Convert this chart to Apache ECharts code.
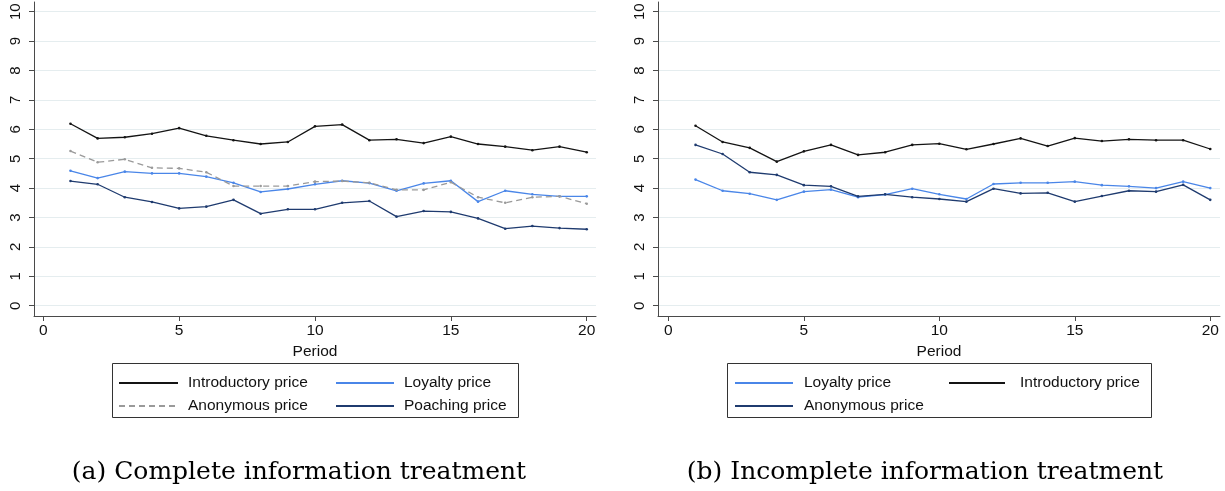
<!DOCTYPE html>
<html><head><meta charset="utf-8">
<script src="https://cdn.jsdelivr.net/npm/echarts@6/dist/echarts.min.js"></script>
<style>
html,body{margin:0;padding:0;background:#fff;width:1225px;height:491px;overflow:hidden}
#a{position:absolute;left:0;top:0;width:612px;height:491px}
#b{position:absolute;left:612px;top:0;width:613px;height:491px}
</style></head>
<body><div id="a"></div><div id="b"></div>
<script>
// ---- data ----
const periods = [1,2,3,4,5,6,7,8,9,10,11,12,13,14,15,16,17,18,19,20];
const xTicks = [0,5,10,15,20];
const yTicks = [0,1,2,3,4,5,6,7,8,9,10];

// (a) Complete information treatment
const aIntro = [6.19,5.69,5.73,5.85,6.04,5.78,5.63,5.50,5.57,6.10,6.16,5.63,5.66,5.53,5.75,5.50,5.41,5.29,5.41,5.22];
const aLoyal = [4.59,4.34,4.56,4.50,4.50,4.39,4.18,3.87,3.97,4.13,4.25,4.17,3.91,4.16,4.25,3.54,3.91,3.79,3.72,3.72];
const aAnon  = [5.26,4.88,4.98,4.69,4.67,4.54,4.07,4.07,4.07,4.22,4.24,4.18,3.94,3.94,4.20,3.69,3.50,3.69,3.72,3.47];
const aPoach = [4.24,4.13,3.69,3.53,3.31,3.37,3.60,3.13,3.28,3.28,3.50,3.56,3.03,3.22,3.19,2.97,2.62,2.71,2.64,2.60];

// (b) Incomplete information treatment
const bLoyal = [4.29,3.91,3.81,3.60,3.88,3.95,3.69,3.78,3.98,3.79,3.63,4.14,4.18,4.18,4.22,4.10,4.06,4.00,4.22,4.00];
const bIntro = [6.12,5.57,5.37,4.90,5.25,5.47,5.13,5.22,5.47,5.51,5.32,5.50,5.69,5.43,5.70,5.60,5.66,5.63,5.63,5.33];
const bAnon  = [5.47,5.16,4.54,4.45,4.10,4.06,3.72,3.79,3.69,3.63,3.54,3.98,3.82,3.84,3.54,3.73,3.91,3.88,4.11,3.60];

const captionA = '(a) Complete information treatment';
const captionB = '(b) Incomplete information treatment';

// ---- styles ----
const C_BLACK = '#141414', C_LIGHT = '#4a86e8', C_NAVY = '#1f3b6f', C_GRAY = '#9a9a9a';
const SANS = 'Liberation Sans, Arial, sans-serif';
const AXC = '#4a4a4a';

function pairs(vals){ return periods.map((p,i)=>[p, vals[i]]); }
function line(name, vals, color, dashed){
  return {
    type:'line', name, data: pairs(vals),
    symbol:'circle', symbolSize:2.6, showSymbol:true,
    itemStyle:{color},
    lineStyle:{color, width:1.3, type: dashed ? [6,4] : 'solid'},
    emphasis:{disabled:true}, animation:false
  };
}
function legendCol(names, left, itemWidth, textPad){
  return {
    data: names, orient:'vertical', left, top:375,
    itemWidth, itemHeight:14, itemGap:7, padding:0,
    selectedMode:false,
    itemStyle:{opacity:0},
    textStyle:{fontFamily:SANS, fontSize:15.5, color:'#111', padding:[0,0,0,textPad]}
  };
}
function build(cfg){
  return {
    animation:false,
    grid:{left:cfg.gridLeft, top:2, width:562, height:314, containLabel:false},
    xAxis:{
      type:'value', min:cfg.xmin, max:cfg.xmax,
      name:'Period', nameLocation:'middle', nameGap:24,
      nameTextStyle:{fontFamily:SANS, fontSize:15.5, color:'#111'},
      axisLine:{onZero:false, lineStyle:{color:AXC, width:1}},
      axisTick:{show:true, length:5, lineStyle:{color:AXC}, customValues:xTicks},
      axisLabel:{customValues:xTicks, margin:7, fontFamily:SANS, fontSize:15.5, color:'#111'},
      splitLine:{show:false}
    },
    yAxis:{
      type:'value', min:-0.35, max:10.33,
      axisLine:{show:true, onZero:false, lineStyle:{color:AXC, width:1}},
      axisTick:{show:true, length:5, lineStyle:{color:AXC}, customValues:yTicks},
      axisLabel:{customValues:yTicks, rotate:90, margin:11, fontFamily:SANS, fontSize:15, color:'#111'},
      splitLine:{show:true, lineStyle:{color:'#e5edef', width:1}}
    },
    legend: cfg.legends,
    series: cfg.series,
    graphic:[
      {type:'rect', shape:{x:cfg.box[0]+0.5, y:363.5, width:cfg.box[1], height:54},
       style:{fill:'none', stroke:'#333', lineWidth:1}, silent:true},
      {type:'text', x:cfg.capX, y:472, silent:true,
       style:{text:cfg.caption, fontFamily:'DejaVu Serif', fontSize:25, fill:'#000', align:'center', verticalAlign:'middle'}}
    ]
  };
}

const chartA = echarts.init(document.getElementById('a'), null, {renderer:'canvas'});
chartA.setOption(build({
  gridLeft:34, xmin:-0.342, xmax:20.342, box:[112,406], capX:299, caption:captionA,
  series:[
    line('Introductory price', aIntro, C_BLACK, false),
    line('Loyalty price', aLoyal, C_LIGHT, false),
    line('Anonymous price', aAnon, C_GRAY, true),
    line('Poaching price', aPoach, C_NAVY, false)
  ],
  legends:[
    legendCol(['Introductory price','Anonymous price'], 118, 59, 5),
    legendCol(['Loyalty price','Poaching price'], 335, 58, 5)
  ]
}));

const chartB = echarts.init(document.getElementById('b'), null, {renderer:'canvas'});
chartB.setOption(build({
  gridLeft:46, xmin:-0.385, xmax:20.36, box:[115,424], capX:313, caption:captionB,
  series:[
    line('Loyalty price', bLoyal, C_LIGHT, false),
    line('Introductory price', bIntro, C_BLACK, false),
    line('Anonymous price', bAnon, C_NAVY, false)
  ],
  legends:[
    legendCol(['Loyalty price','Anonymous price'], 122, 58, 6),
    legendCol(['Introductory price'], 336, 56, 10)
  ]
}));
</script>
</body></html>
